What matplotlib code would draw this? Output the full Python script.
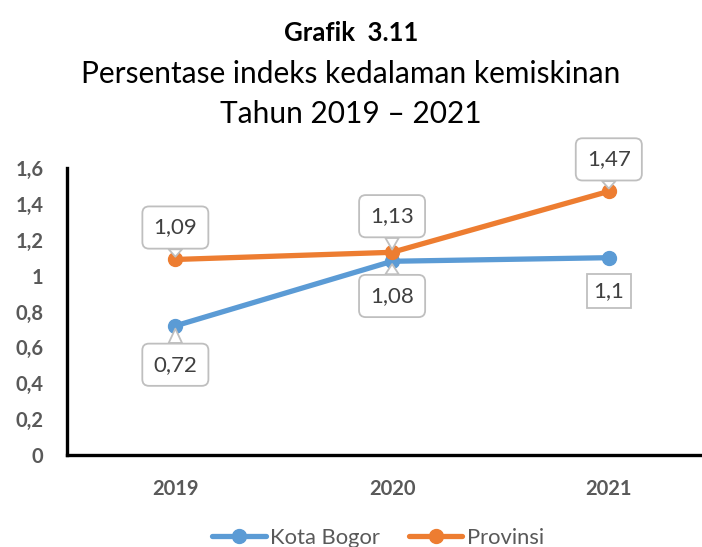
import matplotlib.pyplot as plt
import matplotlib as mpl

mpl.rcParams['font.family'] = ['Lato', 'DejaVu Sans']

years = ['2019', '2020', '2021']
kota_bogor = [0.72, 1.08, 1.1]
provinsi = [1.09, 1.13, 1.47]
y_ticks = [0, 0.2, 0.4, 0.6, 0.8, 1.0, 1.2, 1.4, 1.6]
y_tick_labels = ['0', '0,2', '0,4', '0,6', '0,8', '1', '1,2', '1,4', '1,6']

blue = '#5B9BD5'
orange = '#ED7D31'
grey_txt = '#595959'
label_txt = '#404040'
box_ec = '#BFBFBF'

fig = plt.figure(figsize=(7.02, 5.47), dpi=100)
ax = fig.add_axes([67 / 702, (547 - 455) / 547, (702 - 67) / 702, (455 - 168) / 547])

x = range(len(years))
ax.plot(x, kota_bogor, color=blue, lw=3.8, marker='o', ms=10, label='Kota Bogor',
        solid_capstyle='round', zorder=3)
ax.plot(x, provinsi, color=orange, lw=3.8, marker='o', ms=10, label='Provinsi',
        solid_capstyle='round', zorder=4)

ax.set_xlim(-0.5, 2.43)
ax.set_ylim(0, 1.6)
ax.set_xticks(list(x))
ax.set_xticklabels(years)
ax.set_yticks(y_ticks)
ax.set_yticklabels(y_tick_labels)
ax.tick_params(length=0, labelsize=14.5, labelcolor=grey_txt)
ax.tick_params(axis='x', pad=17)
ax.tick_params(axis='y', pad=17)
for lab in ax.get_xticklabels() + ax.get_yticklabels():
    lab.set_fontweight('bold')
for s in ['top', 'right']:
    ax.spines[s].set_visible(False)
for s in ['left', 'bottom']:
    ax.spines[s].set_linewidth(2.4)
    ax.spines[s].set_color('black')


def fmt(v):
    return ('%g' % v).replace('.', ',')


def callout(xi, yi, dy, rounded=True):
    if rounded:
        bbox = dict(boxstyle='round,pad=0.5,rounding_size=0.3', fc='white', ec=box_ec, lw=1.3)
        arrow = dict(arrowstyle='wedge,tail_width=0.6,shrink_factor=0.5', fc='white',
                     ec=box_ec, lw=1.3, shrinkA=0, shrinkB=2)
    else:
        bbox = dict(boxstyle='square,pad=0.3', fc='white', ec=box_ec, lw=1.3)
        arrow = None
    ax.annotate(fmt(yi), xy=(xi, yi), xytext=(0, dy), textcoords='offset points',
                ha='center', va='center', fontsize=16, color=label_txt,
                bbox=bbox, arrowprops=arrow, zorder=6)


callout(0, provinsi[0], 23)
callout(0, kota_bogor[0], -28)
callout(1, provinsi[1], 26)
callout(1, kota_bogor[1], -25)
callout(2, provinsi[2], 23)
callout(2, kota_bogor[2], -24, rounded=False)

fig.text(0.5, 1 - 33 / 547, 'Grafik  3.11', ha='center', va='center',
         fontsize=18.5, fontweight='bold', color='black')
fig.text(0.5, 1 - 74 / 547, 'Persentase indeks kedalaman kemiskinan', ha='center',
         va='center', fontsize=21.5, color='black')
fig.text(0.5, 1 - 114 / 547, 'Tahun 2019 \u2013 2021', ha='center', va='center',
         fontsize=21.5, color='black')

leg = fig.legend(loc='center', bbox_to_anchor=(378 / 702, 9 / 547), ncol=2,
                 frameon=False, fontsize=15.8, handlelength=2.45, handletextpad=0.2,
                 columnspacing=1.3)
for t in leg.get_texts():
    t.set_color(grey_txt)

fig.savefig('out.png', dpi=100)
